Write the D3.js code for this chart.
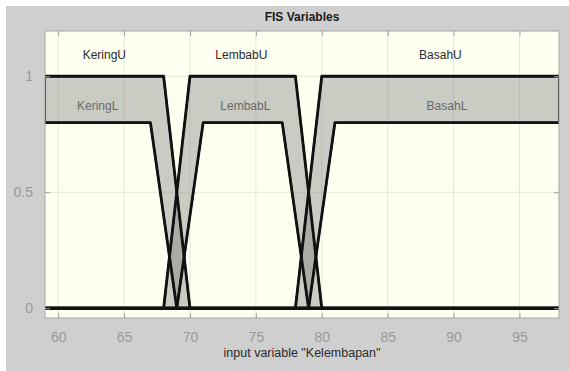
<!DOCTYPE html>
<html>
<head>
<meta charset="utf-8">
<script src="https://cdn.jsdelivr.net/npm/d3@7"></script>
<style>
  html, body { margin: 0; padding: 0; background: #ffffff; }
  svg { display: block; }
</style>
</head>
<body>
<svg id="chart" width="569" height="371"></svg>
<script>
// ---- data ----
const title = "FIS Variables";
const xLabel = 'input variable "Kelembapan"';
const xDomain = [59, 98];
const yDomain = [-0.042, 1.195];
const xTicks = [60, 65, 70, 75, 80, 85, 90, 95];
const yTicks = [0, 0.5, 1];
const yTickLabels = ["0", "0.5", "1"];

const mfNames = ["Kering", "Lembab", "Basah"];
// upper MF trapezoid params [a, b, c, d]
const upperParams = [
  [59, 59, 68, 70],
  [68, 70, 78, 80],
  [78, 80, 98, 98]
];
// lower MF trapezoid params [a, b, c, d] and its scale
const lowerParams = [
  [59, 59, 67, 69],
  [69, 71, 77, 79],
  [79, 81, 98, 98]
];
const lowerScale = 0.8;
// label anchor positions (data x) for upper / lower labels
const upperLabelX = [63.5, 73.9, 89.0];
const lowerLabelX = [63.0, 74.2, 89.5];
const upperLabelY = 1.09;
const lowerLabelY = 0.87;

// ---- layout ----
const svg = d3.select("#chart");
const W = 569, H = 371;
const plot = { left: 45, right: 559, top: 31, bottom: 318 };

svg.append("rect").attr("x", 0).attr("y", 0).attr("width", W).attr("height", H).attr("fill", "#ffffff");
svg.append("rect").attr("x", 6).attr("y", 6).attr("width", W - 6).attr("height", H - 6).attr("fill", "#cfcfcf");

const x = d3.scaleLinear().domain(xDomain).range([plot.left, plot.right]);
const y = d3.scaleLinear().domain(yDomain).range([plot.bottom, plot.top]);

svg.append("rect")
  .attr("x", plot.left).attr("y", plot.top)
  .attr("width", plot.right - plot.left).attr("height", plot.bottom - plot.top)
  .attr("fill", "#fefff0");

// grid
const grid = svg.append("g");
grid.selectAll("line.v").data(xTicks).join("line")
  .attr("x1", d => x(d)).attr("x2", d => x(d))
  .attr("y1", plot.top).attr("y2", plot.bottom)
  .attr("stroke", "#e6e6d6").attr("stroke-width", 1);
grid.selectAll("line.h").data(yTicks).join("line")
  .attr("x1", plot.left).attr("x2", plot.right)
  .attr("y1", d => y(d)).attr("y2", d => y(d))
  .attr("stroke", "#e6e6d6").attr("stroke-width", 1);

// clip
svg.append("clipPath").attr("id", "clip").append("rect")
  .attr("x", plot.left).attr("y", plot.top)
  .attr("width", plot.right - plot.left).attr("height", plot.bottom - plot.top);

function trap(p, v, s) {
  const [a, b, c, d] = p;
  let up = a === b ? (v >= a ? 1 : 0) : (v - a) / (b - a);
  let down = c === d ? (v <= d ? 1 : 0) : (d - v) / (d - c);
  return s * Math.max(0, Math.min(1, up, down));
}
function mfPoints(p, s) {
  const xs = Array.from(new Set([xDomain[0], ...p, xDomain[1]]))
    .filter(v => v >= xDomain[0] && v <= xDomain[1]).sort((m, n) => m - n);
  return xs.map(v => [v, trap(p, v, s)]);
}

const line = d3.line().x(d => x(d[0])).y(d => y(d[1]));
const g = svg.append("g").attr("clip-path", "url(#clip)");

// patches
mfNames.forEach((name, i) => {
  const up = mfPoints(upperParams[i], 1);
  const lo = mfPoints(lowerParams[i], lowerScale);
  const poly = up.concat(lo.slice().reverse());
  g.append("path")
    .attr("d", line(poly) + "Z")
    .attr("fill", "#7d7d7d").attr("fill-opacity", 0.4)
    .attr("stroke", "#111").attr("stroke-width", 2).attr("stroke-linejoin", "round");
});
// lines
mfNames.forEach((name, i) => {
  [[upperParams[i], 1], [lowerParams[i], lowerScale]].forEach(([p, s]) => {
    g.append("path")
      .attr("d", line(mfPoints(p, s)))
      .attr("fill", "none").attr("stroke", "#111").attr("stroke-width", 2.8)
      .attr("stroke-linejoin", "round");
  });
});

// labels
const font = "'Liberation Sans', Arial, Helvetica, sans-serif";
mfNames.forEach((name, i) => {
  svg.append("text").attr("x", x(upperLabelX[i])).attr("y", y(upperLabelY))
    .attr("text-anchor", "middle").attr("dominant-baseline", "middle")
    .attr("font-family", font).attr("font-size", 12).attr("fill", "#2b2b2b")
    .text(name + "U");
  svg.append("text").attr("x", x(lowerLabelX[i])).attr("y", y(lowerLabelY))
    .attr("text-anchor", "middle").attr("dominant-baseline", "middle")
    .attr("font-family", font).attr("font-size", 12).attr("fill", "#6a6a6a")
    .text(name + "L");
});

// axes box
svg.append("rect")
  .attr("x", plot.left).attr("y", plot.top)
  .attr("width", plot.right - plot.left).attr("height", plot.bottom - plot.top)
  .attr("fill", "none").attr("stroke", "#a8a8a8").attr("stroke-width", 1);

// axes with inward ticks
const axB = d3.axisBottom(x).tickValues(xTicks).tickSize(-5).tickPadding(14).tickFormat(d3.format("d"));
const gB = svg.append("g").attr("transform", `translate(0,${plot.bottom})`).call(axB);
const axT = d3.axisTop(x).tickValues(xTicks).tickSize(-5).tickFormat("");
const gT = svg.append("g").attr("transform", `translate(0,${plot.top})`).call(axT);
const axL = d3.axisLeft(y).tickValues(yTicks).tickSize(-5).tickPadding(12).tickFormat((d, i) => yTickLabels[i]);
const gL = svg.append("g").attr("transform", `translate(${plot.left},0)`).call(axL);
const axR = d3.axisRight(y).tickValues(yTicks).tickSize(-5).tickFormat("");
const gR = svg.append("g").attr("transform", `translate(${plot.right},0)`).call(axR);
[gB, gT, gL, gR].forEach(a => {
  a.select(".domain").remove();
  a.selectAll(".tick line").attr("stroke", "#a0a0a0");
  a.selectAll(".tick text").attr("fill", "#9a9a9a").attr("font-family", font).attr("font-size", 14);
});

// title & x label
svg.append("text").attr("x", (plot.left + plot.right) / 2).attr("y", 18)
  .attr("text-anchor", "middle").attr("dominant-baseline", "middle")
  .attr("font-family", font).attr("font-size", 12).attr("font-weight", "bold").attr("fill", "#1a1a1a")
  .text(title);
svg.append("text").attr("x", (plot.left + plot.right) / 2).attr("y", 354)
  .attr("text-anchor", "middle").attr("dominant-baseline", "middle")
  .attr("font-family", font).attr("font-size", 12.5).attr("fill", "#2b2b2b")
  .text(xLabel);
</script>
</body>
</html>
